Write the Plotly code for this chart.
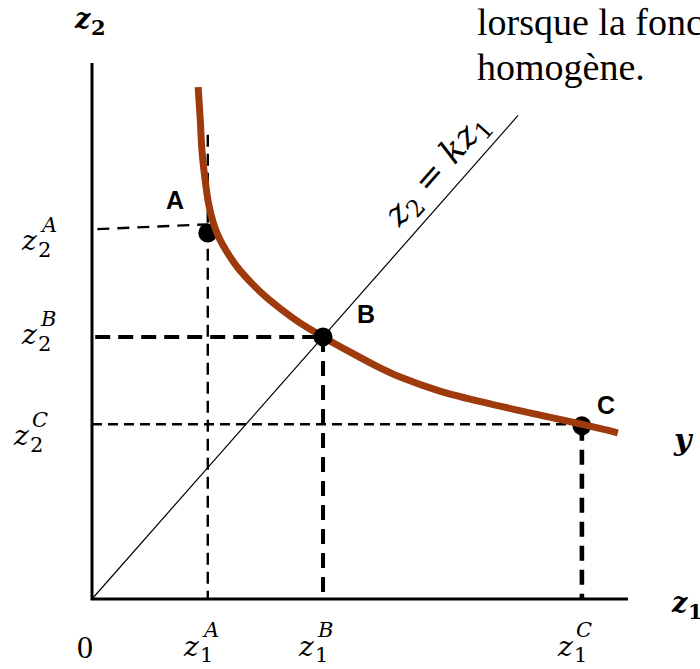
import plotly.graph_objects as go

# Points on the isoquant y
point_names = ["A", "B", "C"]
point_z1 = [2.16, 4.31, 9.14]
point_z2 = [6.83, 4.89, 3.23]

# Isoquant y (input combinations giving the same output)
iso_z1 = [1.98, 2.02, 2.05, 2.11, 2.18, 2.26, 2.37, 2.52, 2.72, 2.99, 3.25, 3.51,
          3.88, 4.31, 4.81, 5.28, 5.75, 6.49, 7.43, 8.36, 9.14, 9.57, 9.81]
iso_z2 = [9.55, 8.94, 8.38, 7.82, 7.35, 7.03, 6.74, 6.47, 6.18, 5.88, 5.63, 5.42,
          5.15, 4.89, 4.61, 4.36, 4.14, 3.88, 3.64, 3.43, 3.26, 3.16, 3.10]

# Ray z2 = k z1 through the origin
k = 1.135
ray_z1 = [0.0, 7.95]

# Length of both axes
axis_len = 10.0

# Dashed guides: horizontal from the z2 axis to each point,
# vertical from each point down to the z1 axis
guide_h_z1_start = [0.10, 0.06, 0.0]
guide_h_z2_start = [6.90, 4.89, 3.26]
guide_h_z2_end = [6.99, 4.89, 3.26]
guide_v_z2_top = [8.66, 4.89, 3.23]

# Header text
header_lines = ["lorsque la fonction", "homogène."]

SCALE = 53.6          # pixels per unit
ORIGIN_PX = (92, 599)  # position of the origin in the 700x669 canvas
W, H = 700, 669

MATH = "DejaVu Serif"
TEXT = "Liberation Serif"
SANS = "Liberation Sans"

h_style = [(2.4, "12px,8px"), (4.0, "15px,8px"), (2.4, "10px,6px")]
v_style = [(2.4, "12px,7px"), (4.0, "15px,9px"), (4.6, "15px,9px")]

fig = go.Figure()

# dashed guide lines
for i in range(len(point_names)):
    w, d = h_style[i]
    fig.add_trace(go.Scatter(
        x=[guide_h_z1_start[i], point_z1[i]],
        y=[guide_h_z2_start[i], guide_h_z2_end[i]],
        mode="lines", line=dict(color="black", width=w, dash=d), hoverinfo="skip"))
    w, d = v_style[i]
    fig.add_trace(go.Scatter(
        x=[point_z1[i], point_z1[i]],
        y=[guide_v_z2_top[i], 0.0],
        mode="lines", line=dict(color="black", width=w, dash=d), hoverinfo="skip"))

# ray z2 = k z1
fig.add_trace(go.Scatter(
    x=ray_z1, y=[k * v for v in ray_z1],
    mode="lines", line=dict(color="black", width=1.2), hoverinfo="skip"))

# axes
fig.add_trace(go.Scatter(
    x=[0, 0, axis_len], y=[axis_len, 0, 0],
    mode="lines", line=dict(color="black", width=3), hoverinfo="skip"))

# points A and C sit under the curve
under = [0, 2]
fig.add_trace(go.Scatter(
    x=[point_z1[i] for i in under], y=[point_z2[i] for i in under],
    mode="markers", marker=dict(color="black", size=19), hoverinfo="skip"))

# isoquant
fig.add_trace(go.Scatter(
    x=iso_z1, y=iso_z2, mode="lines",
    line=dict(color="#9E3A0C", width=7, shape="spline", smoothing=0.9),
    hoverinfo="skip"))

# point B drawn over the curve
fig.add_trace(go.Scatter(
    x=[point_z1[1]], y=[point_z2[1]],
    mode="markers", marker=dict(color="black", size=19), hoverinfo="skip"))


def note(x, y, text, size, family=MATH, xs=0, ys=0, xanchor="left", **kw):
    fig.add_annotation(x=x, y=y, text=text, showarrow=False, xanchor=xanchor,
                       yanchor="middle", xshift=xs, yshift=ys, borderpad=0,
                       font=dict(family=family, size=size, color="black"), **kw)


def math_label(x, y, base, sub, sup, xs, ys, size=28, bold=False):
    b0, b1 = ("<b>", "</b>") if bold else ("", "")
    note(x, y, f"{b0}<i>{base}</i>{b1}", size, xs=xs, ys=ys)
    note(x, y, f"{b0}{sub}{b1}", int(size * 0.78), xs=xs + 17, ys=ys - 9)
    if sup:
        note(x, y, f"<i>{sup}</i>", int(size * 0.78), xs=xs + 19, ys=ys + 16)


# point letters
letter_shift = [(-33, 33), (43, 23), (24, 21)]
for i, name in enumerate(point_names):
    dx, dy = letter_shift[i]
    note(point_z1[i], point_z2[i], f"<b>{name}</b>", 25, family=SANS,
         xs=dx, ys=dy, xanchor="center")

# z2 tick labels on the vertical axis
left_shift = [(-72, -8), (-72, 2), (-80, -10)]
for i, name in enumerate(point_names):
    xs, ys = left_shift[i]
    math_label(0, point_z2[i], "z", "2", name, xs, ys)

# z1 tick labels under the horizontal axis
for i, name in enumerate(point_names):
    math_label(point_z1[i], 0, "z", "1", name, -26, -47)

note(0, 0, "0", 32, family=TEXT, xs=-7, ys=-48, xanchor="center")

# axis titles
math_label(0, axis_len, "z", "2", None, -19, 45, size=27, bold=True)
math_label(axis_len, 0, "z", "1", None, 42, -3, size=27, bold=True)
note(axis_len, point_z2[2], "<b><i>y</i></b>", 30, xs=44, ys=-14)

# label of the ray
note(6.44, 8.0, "<i>z</i><sub>2</sub> = <i>kz</i><sub>1</sub>", 34,
     xanchor="center", textangle=-48.6)

# header, one annotation per line
for j, line in enumerate(header_lines):
    fig.add_annotation(xref="paper", yref="paper", x=475 / W,
                       y=1 - (22 + 45 * j) / H,
                       xanchor="left", yanchor="middle", showarrow=False,
                       text=line, font=dict(family=TEXT, size=38, color="black"))

fig.update_layout(
    width=W, height=H, margin=dict(l=0, r=0, t=0, b=0, pad=0),
    paper_bgcolor="white", plot_bgcolor="white", showlegend=False,
    xaxis=dict(visible=False, range=[-ORIGIN_PX[0] / SCALE, (W - ORIGIN_PX[0]) / SCALE]),
    yaxis=dict(visible=False, range=[-(H - ORIGIN_PX[1]) / SCALE, ORIGIN_PX[1] / SCALE]),
)

fig.write_html("out.html")
